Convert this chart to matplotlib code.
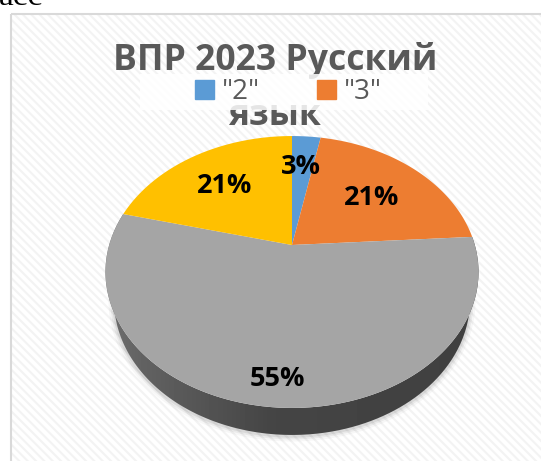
import numpy as np
import matplotlib
matplotlib.use("Agg")
import matplotlib.pyplot as plt
from matplotlib.patches import Rectangle, Polygon, Patch
from matplotlib.path import Path
from matplotlib.transforms import Transform, Affine2D

categories = ['"2"', '"3"', '"4"', '"5"']
values = [3, 21, 55, 21]
labels = ["3%", "21%", "55%", "21%"]
colors = ["#5B9BD5", "#ED7D31", "#A5A5A5", "#FFC000"]

APEX_X, APEX_Y, SX, AY, K = 292.0, 245.0, 182.8, 130.6, 0.1985


class Tilt(Transform):
    input_dims = output_dims = 2
    has_inverse = False
    is_separable = False

    def transform_non_affine(self, xy):
        xy = np.asarray(xy, float)
        d = 1 + K * xy[:, 1]
        return np.column_stack([APEX_X + SX * xy[:, 0] / d, APEX_Y - AY * xy[:, 1] / d])

    def transform_path_non_affine(self, path):
        polys = path.to_polygons(Affine2D().scale(2000))
        v = np.concatenate(polys) / 2000
        return Path(self.transform_non_affine(v))


tilt = Tilt()

plt.rcParams["font.family"] = ["Open Sans", "DejaVu Sans"]
plt.rcParams["hatch.linewidth"] = 1.5

fig = plt.figure(figsize=(5.41, 4.61), dpi=100, facecolor="white")
ax = fig.add_axes([0, 0, 1, 1])

wedges, _ = ax.pie(values, colors=colors, startangle=90, counterclock=False, radius=1,
                   wedgeprops=dict(linewidth=0))
ax.set_aspect("auto")
ax.set_xlim(0, 541)
ax.set_ylim(461, 0)
ax.axis("off")
for i, w in enumerate(wedges):
    w.set_transform(tilt + ax.transData)
    w.set_zorder(6)

# chart frame and background
ax.add_patch(Rectangle((10.5, 14.5), 540, 460, facecolor="white", edgecolor="#f3f3f3",
                       hatch="\\" * 4, linewidth=0, zorder=0))
ax.add_patch(Rectangle((10.5, 14.5), 540, 460, fill=False, edgecolor="#d9d9d9",
                       linewidth=1.5, zorder=0.5))

# clipped text of the page above the chart
ax.text(-1, 5, "асс", family="Liberation Serif", fontsize=24, color="black",
        ha="left", va="baseline", zorder=1, clip_on=True)

# title
ax.text(275, 70, "ВПР 2023 Русский", fontsize=25.6, fontweight="bold", color="#595959",
        ha="center", va="baseline", zorder=2)
ax.text(274, 125, "язык", fontsize=25.6, fontweight="bold", color="#595959",
        ha="center", va="baseline", zorder=2)

# legend
ax.add_patch(Rectangle((140, 74), 288, 36, facecolor="white", alpha=0.85, linewidth=0, zorder=3))
handles = [Patch(color=colors[i], label=categories[i]) for i in range(2)]
leg = ax.legend(handles=handles, ncol=2, frameon=False, fontsize=20, loc="center",
                bbox_to_anchor=(288.5, 92), bbox_transform=ax.transData,
                labelcolor="#595959", handlelength=0.68, handleheight=0.68,
                handletextpad=0.3, columnspacing=2.05, borderpad=0)
leg.set_zorder(4)

# pie side: the lower rim is a little narrower than the top face
f0, f1 = np.cumsum(values)[1] / sum(values), np.cumsum(values)[2] / sum(values)
th = np.pi / 2 - 2 * np.pi * np.linspace(f0, f1, 240)
rim = tilt.transform_non_affine(np.column_stack([np.cos(th), np.sin(th)]))
low = np.column_stack([APEX_X + (rim[:, 0] - APEX_X) * 178 / 186.5,
                       300 + (rim[:, 1] - 272) * 135 / 136])
side = np.vstack([rim, low[::-1]])

for lw, a in [(8, 0.03), (5, 0.05), (2.5, 0.07)]:
    ax.plot(low[:, 0], low[:, 1] + 1, color="black", lw=lw, alpha=a, zorder=4.5,
            solid_capstyle="round")

grad = np.interp(np.linspace(0, 1, 380), [0, 0.12, 0.45, 1], [0.44, 0.38, 0.27, 0.25])
im = ax.imshow(grad[None, :], cmap="gray", vmin=0, vmax=1, aspect="auto",
               extent=(100, 480, 440, 200), zorder=5)
clip = Polygon(side, closed=True, transform=ax.transData, facecolor="none", edgecolor="none")
ax.add_patch(clip)
im.set_clip_path(clip)
ax.set_xlim(0, 541)
ax.set_ylim(461, 0)

# data labels
for s, (x, y) in zip(labels, [(301, 167), (372, 198), (277, 379), (225, 186)]):
    ax.text(x, y, s, fontsize=19.5, fontweight="bold", color="black", ha="center",
            va="center", zorder=8)

fig.savefig("out.png", dpi=100)
